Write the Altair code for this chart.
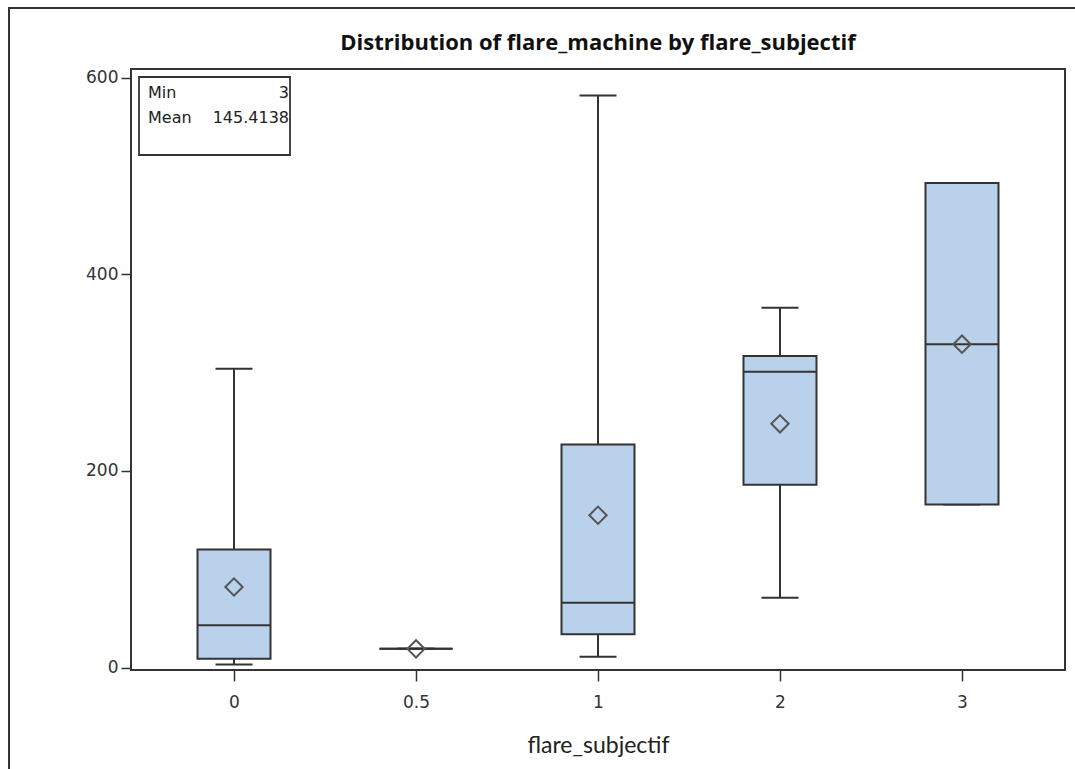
import altair as alt
import pandas as pd

# ---- data ----
categories = ["0", "0.5", "1", "2", "3"]
whisker_low = [3, 19, 11, 71, 166]
q1 = [9, 19, 34, 186, 166]
median = [43, 19, 66, 301, 329]
q3 = [120, 19, 227, 317, 493]
whisker_high = [304, 19, 582, 366, 493]
means = [82, 19, 155, 248, 329]

inset_labels = ["Min", "Mean"]
inset_values = ["3", "145.4138"]

title_text = "Distribution of flare_machine by flare_subjectif"
x_title = "flare_subjectif"

y_ticks = [0, 200, 400, 600]

df = pd.DataFrame({
    "cat": categories,
    "lo": whisker_low,
    "q1": q1,
    "med": median,
    "q3": q3,
    "hi": whisker_high,
    "mean": means,
})
inset_df = pd.DataFrame({"label": inset_labels, "value": inset_values, "row": [0, 1]})
title_df = pd.DataFrame({"t": [title_text]})

W, H = 934, 601
EDGE = "#333333"
FILL = "#B9D1EA"

x_enc = alt.X(
    "cat:N",
    sort=categories,
    scale=alt.Scale(type="point", padding=0.566),
    axis=alt.Axis(
        title=x_title,
        labelAngle=0,
        labelFont="DejaVu Sans",
        labelFontSize=17,
        labelColor="#333333",
        labelPadding=13,
        tickSize=11,
        tickColor=EDGE,
        tickWidth=1.5,
        domain=False,
        titleFont="Lato",
        titleFontSize=23,
        titleFontWeight="normal",
        titleColor="#222222",
        titlePadding=24,
    ),
)
y_scale = alt.Scale(domain=[-2.5, 609], nice=False, zero=False)
y_axis = alt.Axis(
    title=None,
    values=y_ticks,
    labelFont="DejaVu Sans",
    labelFontSize=17,
    labelColor="#333333",
    labelPadding=3,
    tickSize=10,
    tickColor=EDGE,
    tickWidth=1.5,
    domain=False,
    grid=False,
)

base = alt.Chart(df)

whisk_lo = base.mark_rule(color=EDGE, strokeWidth=2).encode(
    x=x_enc, y=alt.Y("lo:Q", scale=y_scale, axis=y_axis), y2="q1:Q"
)
whisk_hi = base.mark_rule(color=EDGE, strokeWidth=2).encode(
    x=x_enc, y=alt.Y("q3:Q", scale=y_scale, axis=y_axis), y2="hi:Q"
)
cap_lo = base.mark_tick(color=EDGE, size=37, thickness=2, opacity=1).encode(
    x=x_enc, y=alt.Y("lo:Q", scale=y_scale, axis=y_axis)
)
cap_hi = base.mark_tick(color=EDGE, size=37, thickness=2, opacity=1).encode(
    x=x_enc, y=alt.Y("hi:Q", scale=y_scale, axis=y_axis)
)
box = base.mark_bar(size=73, fill=FILL, stroke=EDGE, strokeWidth=2, opacity=1).encode(
    x=x_enc, y=alt.Y("q1:Q", scale=y_scale, axis=y_axis), y2="q3:Q"
)
med = base.mark_tick(color=EDGE, size=73, thickness=2, opacity=1).encode(
    x=x_enc, y=alt.Y("med:Q", scale=y_scale, axis=y_axis)
)
mean_pt = base.mark_point(
    shape="diamond", size=300, filled=False, stroke="#555555", strokeWidth=2, opacity=1
).encode(x=x_enc, y=alt.Y("mean:Q", scale=y_scale, axis=y_axis))

# inset statistics box
inset_box = alt.Chart(inset_df).mark_rect(
    fill="white", stroke=EDGE, strokeWidth=1.8
).encode(
    x=alt.value(8), x2=alt.value(159), y=alt.value(8), y2=alt.value(86)
).transform_filter("datum.row == 0")

inset_texts = []
for i in range(len(inset_labels)):
    ypix = 24 + 25 * i
    inset_texts.append(
        alt.Chart(inset_df).mark_text(
            align="left", baseline="middle", font="DejaVu Sans", fontSize=16, color="#222222"
        ).encode(x=alt.value(17), y=alt.value(ypix), text="label:N")
        .transform_filter(f"datum.row == {i}")
    )
    inset_texts.append(
        alt.Chart(inset_df).mark_text(
            align="right", baseline="middle", font="DejaVu Sans", fontSize=16, color="#222222"
        ).encode(x=alt.value(158), y=alt.value(ypix), text="value:N")
        .transform_filter(f"datum.row == {i}")
    )

# chart title as text above the plot area
title_mark = alt.Chart(title_df).mark_text(
    align="center", baseline="middle", font="Open Sans", fontSize=22, fontWeight="bold",
    color="#111111"
).encode(x=alt.value(W / 2), y=alt.value(-26), text="t:N")

# outer graph frame (decoration)
frame = alt.Chart(inset_df).mark_rect(
    fill=None, stroke=EDGE, strokeWidth=2
).encode(
    x=alt.value(-122), x2=alt.value(960), y=alt.value(-61), y2=alt.value(720)
).transform_filter("datum.row == 0")

chart = alt.layer(
    frame, whisk_lo, whisk_hi, cap_lo, cap_hi, box, med, mean_pt,
    inset_box, *inset_texts, title_mark,
).properties(
    width=W,
    height=H,
    background="white",
    autosize=alt.AutoSizeParams(type="none"),
    padding={"left": 131, "top": 69, "right": 10, "bottom": 99},
).configure_view(
    stroke=EDGE, strokeWidth=2
)

chart.save("out.html", embed_options={"renderer": "svg", "actions": False})
